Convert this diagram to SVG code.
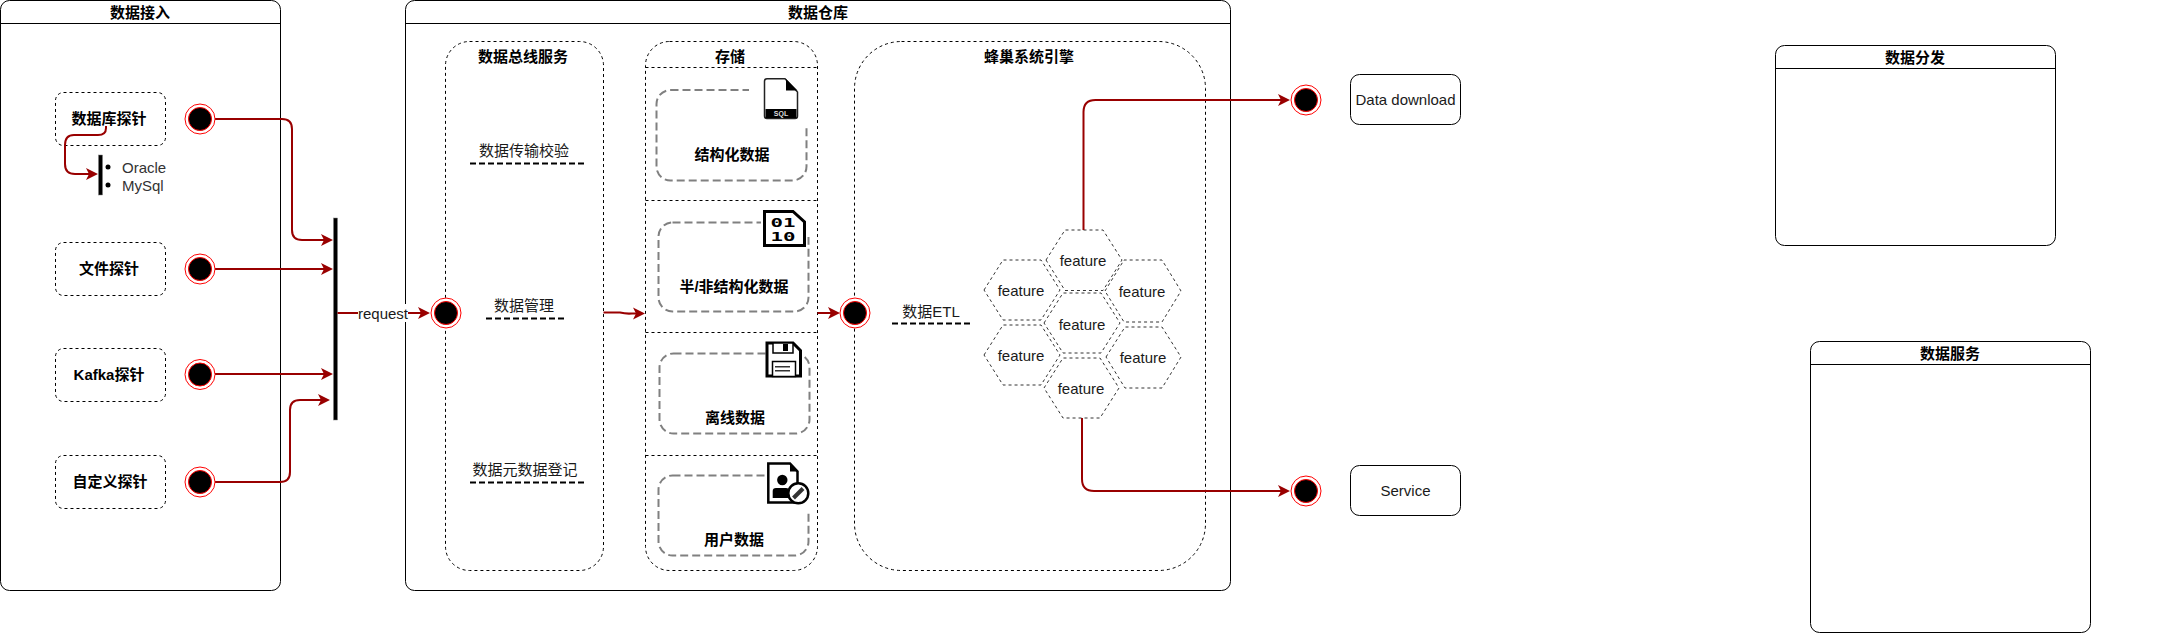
<svg xmlns="http://www.w3.org/2000/svg" width="2166" height="634" viewBox="0 0 2166 634">
<style>
text{font-family:"Liberation Sans","Noto Sans CJK SC",sans-serif;font-size:15px;fill:#1a1a1a;text-anchor:middle;dominant-baseline:central}
.b{font-weight:bold;fill:#000}
.l{text-anchor:start;fill:#333}
.lane{fill:#fff;stroke:#000;stroke-width:1}
.cont{fill:none;stroke:#000;stroke-width:1;stroke-dasharray:3 3}
.gray{fill:none;stroke:#808080;stroke-width:2;stroke-dasharray:8 4}
.rule{stroke:#000;stroke-width:2;stroke-dasharray:6 3;fill:none}
.hex{fill:none;stroke:#333;stroke-width:1;stroke-dasharray:3 3}
.box{fill:#fff;stroke:#000;stroke-width:1}
.wire{fill:none;stroke:#990000;stroke-width:2;marker-end:url(#arrow)}
.plain{fill:none;stroke:#990000;stroke-width:2}
.ring{fill:#fff;stroke:#ff0000;stroke-width:1}
.dot{fill:#000;stroke:#ff0000;stroke-width:1}
.bar{fill:#000;stroke:#808080;stroke-width:.5}
.ic{fill:#fff;stroke:#000;stroke-width:3}
.ik{fill:#000;stroke:none}
.mask{fill:#fff;stroke:none}
</style>
<defs>
<marker id="arrow" markerUnits="userSpaceOnUse" markerWidth="13" markerHeight="13" viewBox="0 0 13 13" refX="8" refY="6.5" orient="auto">
<path d="M0 .5L12 6.5L0 12.5L3 6.5Z" fill="#990000"/>
</marker>
<g id="circ"><circle class="ring" r="15"/><circle class="dot" r="11.5"/></g>
</defs>

<g id="lane-ingest">
<rect class="lane" x=".5" y=".5" width="280" height="590" rx="9"/>
<path class="lane" d="M.5 23.5H280.5"/>
<text class="b" x="140" y="12">数据接入</text>
</g>
<g id="lane-warehouse">
<rect class="lane" x="405.5" y=".5" width="825" height="590" rx="9"/>
<path class="lane" d="M405.5 23.5H1230.5"/>
<text class="b" x="818" y="12">数据仓库</text>
</g>
<g id="lane-dispatch">
<rect class="lane" x="1775.5" y="45.5" width="280" height="200" rx="9"/>
<path class="lane" d="M1775.5 68.5H2055.5"/>
<text class="b" x="1915" y="57">数据分发</text>
</g>
<g id="lane-service">
<rect class="lane" x="1810.5" y="341.5" width="280" height="291" rx="9"/>
<path class="lane" d="M1810.5 364.5H2090.5"/>
<text class="b" x="1950" y="353">数据服务</text>
</g>

<g id="probe-db"><rect class="cont" x="55.5" y="92.5" width="110" height="53" rx="8"/><text class="b" x="109" y="118">数据库探针</text></g>
<g id="probe-file"><rect class="cont" x="55.5" y="242.5" width="110" height="53" rx="8"/><text class="b" x="109" y="268">文件探针</text></g>
<g id="probe-kafka"><rect class="cont" x="55.5" y="348.5" width="110" height="53" rx="8"/><text class="b" x="109" y="374">Kafka探针</text></g>
<g id="probe-custom"><rect class="cont" x="55.5" y="455.5" width="110" height="53" rx="8"/><text class="b" x="110" y="481">自定义探针</text></g>

<g id="db-list">
<rect class="bar" x="98.5" y="155" width="4" height="40"/>
<circle cx="108" cy="167" r="2.5"/><circle cx="108" cy="185" r="2.5"/>
<text class="l" x="122" y="167">Oracle</text>
<text class="l" x="122" y="185">MySql</text>
</g>

<g id="join-bar"><rect class="bar" x="333.5" y="218" width="4" height="202"/></g>

<g id="bus">
<rect class="cont" x="445.5" y="41.5" width="158" height="529" rx="24"/>
<text class="b" x="523" y="56">数据总线服务</text>
<text x="524" y="150">数据传输校验</text><path class="rule" d="M470 163.5H585"/>
<text x="524" y="305">数据管理</text><path class="rule" d="M486 318.5H566"/>
<text x="525" y="469">数据元数据登记</text><path class="rule" d="M470 482.5H585"/>
</g>

<g id="storage">
<rect class="cont" x="645.5" y="41.5" width="172" height="529" rx="24"/>
<path class="cont" d="M645.5 67.5H817.5M645.5 200.5H817.5M645.5 332.5H817.5M645.5 455.5H817.5"/>
<text class="b" x="730" y="56">存储</text>
</g>

<g id="store-structured">
<rect class="gray" x="656.5" y="90" width="150" height="90.5" rx="14"/>
<rect class="mask" x="749" y="70" width="62" height="58"/>
<path d="M767 78.8H785L797.5 92V116Q797.5 118.5 795 118.5H767Q764.5 118.5 764.5 116V81.3Q764.5 78.8 767 78.8Z" fill="#fff" stroke="#222" stroke-width="1.5"/>
<path class="ik" d="M786 79L797.5 90.5H786Z"/>
<rect class="ik" x="765.5" y="109" width="31" height="9"/>
<text x="781" y="113.8" style="font-size:7px;font-weight:bold;fill:#ddd">SQL</text>
<text class="b" x="732" y="154">结构化数据</text>
</g>
<g id="store-semi">
<rect class="gray" x="658.5" y="222.5" width="150" height="89" rx="14"/>
<rect class="mask" x="761" y="212" width="49" height="25"/>
<path class="ic" d="M764.5 211.5H793L804.5 222V245.5H764.5Z"/>
<text x="783" y="222.5" textLength="25" lengthAdjust="spacingAndGlyphs" style="font-family:'DejaVu Sans Mono',monospace;font-size:13px;font-weight:bold;fill:#000">01</text>
<text x="783" y="236.5" textLength="25" lengthAdjust="spacingAndGlyphs" style="font-family:'DejaVu Sans Mono',monospace;font-size:13px;font-weight:bold;fill:#000">10</text>
<text class="b" x="734" y="286">半/非结构化数据</text>
</g>
<g id="store-offline">
<rect class="gray" x="659.5" y="353.5" width="150" height="80" rx="14"/>
<path class="ic" d="M767 343H793L800.5 350.5V376H767Z"/>
<rect x="773" y="343" width="20" height="10" fill="#fff" stroke="#000" stroke-width="1.5"/>
<rect class="ik" x="783" y="344" width="5" height="7"/>
<rect x="772.5" y="361.5" width="23" height="15" fill="#fff" stroke="#000" stroke-width="1.5"/>
<path d="M775 366.7H790M775 370.7H790" stroke="#333" stroke-width="1.5"/>
<text class="b" x="735" y="417">离线数据</text>
</g>
<g id="store-user">
<rect class="gray" x="658.5" y="475.5" width="150" height="80" rx="14"/>
<rect class="mask" x="766" y="462" width="45" height="49"/>
<path d="M768.3 463.5H790L797.5 471.5V502.5H768.3Z" fill="#fff" stroke="#000" stroke-width="2.5"/>
<path class="ik" d="M790 463.5V471.5H797.5Z"/>
<circle class="ik" cx="782.3" cy="480" r="5.2"/>
<path class="ik" d="M772.7 498V491Q772.7 488 776 488H786Q789 488 790 491V498Z"/>
<circle cx="798.3" cy="493.3" r="10" fill="#fff" stroke="#000" stroke-width="2.5"/>
<path d="M793.5 498L803 488.5" stroke="#333" stroke-width="4"/>
<text class="b" x="734" y="539">用户数据</text>
</g>

<g id="engine">
<rect class="cont" x="854.5" y="41.5" width="351" height="529" rx="47"/>
<text class="b" x="1029" y="56">蜂巢系统引擎</text>
<text x="931" y="311">数据ETL</text><path class="rule" d="M892 323.5H972"/>
</g>

<g id="hex-top"><path class="hex" d="M1046 260L1065 230H1103L1122 260L1103 290.5H1065Z"/><text x="1083" y="260">feature</text></g>
<g id="hex-lt"><path class="hex" d="M984 290L1003 260H1041L1060 290L1041 320H1003Z"/><text x="1021" y="290">feature</text></g>
<g id="hex-rt"><path class="hex" d="M1105 291L1124 260H1162L1181 291L1162 322H1124Z"/><text x="1142" y="291">feature</text></g>
<g id="hex-mid"><path class="hex" d="M1044 323L1063 293H1101L1120 323L1101 353H1063Z"/><text x="1082" y="324">feature</text></g>
<g id="hex-lb"><path class="hex" d="M984 355L1003 325H1041L1060 355L1041 385H1003Z"/><text x="1021" y="355">feature</text></g>
<g id="hex-rb"><path class="hex" d="M1106 357L1125 327H1162L1181 357L1162 388H1125Z"/><text x="1143" y="357">feature</text></g>
<g id="hex-bot"><path class="hex" d="M1044 388L1063 358H1100L1119 388L1100 418H1063Z"/><text x="1081" y="388">feature</text></g>

<g id="out-download"><rect class="box" x="1350.5" y="74.5" width="110" height="50" rx="9"/><text x="1405.5" y="99">Data download</text></g>
<g id="out-service"><rect class="box" x="1350.5" y="465.5" width="110" height="50" rx="9"/><text x="1405.5" y="490">Service</text></g>

<g id="connectors">
<path class="wire" d="M106 126V128Q106 135 98 135H74Q65 135 65 145V164Q65 174 75 174H94"/>
<path class="wire" d="M215 119H282Q292 119 292 129V230Q292 240 302 240H329"/>
<path class="wire" d="M215 269H329"/>
<path class="wire" d="M215 374H329"/>
<path class="wire" d="M215 482H280Q290 482 290 472V410Q290 400 300 400H326"/>
<path class="wire" d="M337.5 313H426"/>
<rect class="mask" x="358" y="304" width="50" height="18"/>
<text x="383" y="313">request</text>
<path class="wire" d="M603.5 312.5H620Q626 314 632 313.5H641"/>
<path class="wire" d="M817.5 313H836"/>
<path class="wire" d="M1083.5 230V112Q1083.5 100 1095.5 100H1286"/>
<path class="wire" d="M1082 418V479Q1082 491 1094 491H1286"/>
</g>

<g id="c-db"><use href="#circ" x="200" y="119"/></g>
<g id="c-file"><use href="#circ" x="200" y="269"/></g>
<g id="c-kafka"><use href="#circ" x="200" y="374.500"/></g>
<g id="c-custom"><use href="#circ" x="200" y="482"/></g>
<g id="c-bus"><use href="#circ" x="446" y="313"/></g>
<g id="c-engine"><use href="#circ" x="855" y="313"/></g>
<g id="c-download"><use href="#circ" x="1306" y="100"/></g>
<g id="c-service"><use href="#circ" x="1306" y="491"/></g>
</svg>
